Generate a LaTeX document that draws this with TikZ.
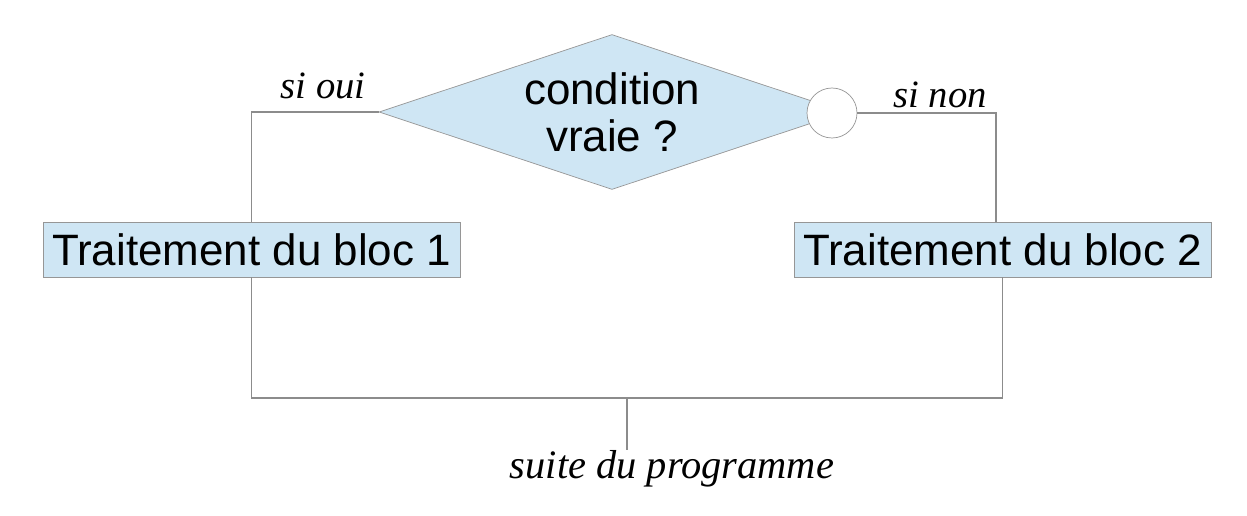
\documentclass[tikz,border=0pt]{standalone}
\usepackage{fontspec}
\setmainfont{Liberation Serif}
\setsansfont{Liberation Sans}
\usetikzlibrary{positioning,calc,shapes.geometric}
\definecolor{blocfill}{RGB}{207,230,244}
\definecolor{blocdraw}{RGB}{150,150,150}
\definecolor{liengray}{RGB}{140,140,140}
\tikzset{
  cond/.style={diamond, shape aspect=3, draw=blocdraw, fill=blocfill, inner sep=0pt,
    minimum width=9.32cm, minimum height=3.1cm, align=center,
    font=\sffamily\fontsize{25}{26.6}\selectfont},
  bloc/.style={rectangle, draw=blocdraw, fill=blocfill, inner sep=0pt,
    minimum width=8.34cm, minimum height=1.1cm, font=\sffamily\fontsize{25}{27}\selectfont},
  rond/.style={circle, draw=blocdraw, fill=white, inner sep=0pt, minimum size=1cm},
  lien/.style={draw=liengray, line width=0.7pt},
  etiq/.style={font=\itshape\fontsize{22}{24}\selectfont, inner sep=0pt},
}
\begin{document}
\begin{tikzpicture}
\useasboundingbox (0,0) rectangle (24.94,10.3);
\node[cond] (test) at (12.24,8.06) {condition\\vraie ?};
\node[rond] (non) at (16.64,8.04) {};
\node[bloc] (bloc1) at (5.03,5.31) {Traitement du bloc 1};
\node[bloc] (bloc2) at (20.05,5.31) {Traitement du bloc 2};
\node[etiq] (oui-lab) at (6.46,8.58) {si oui};
\node[etiq] (non-lab) at (18.8,8.4) {si non};
\node[etiq, font=\itshape\fontsize{23}{25}\selectfont] (suite) at (13.44,0.92) {suite du programme};
% branches
\draw[lien] (test.west) -| (bloc1.north);
\draw[lien] (non.east) -| ([xshift=-0.13cm]bloc2.north);
\coordinate (join) at (12.54,2.34);
\draw[lien] (bloc1.south) |- (join) -| (bloc2.south);
\draw[lien] (join) -- (join |- suite.north);
\end{tikzpicture}
\end{document}
